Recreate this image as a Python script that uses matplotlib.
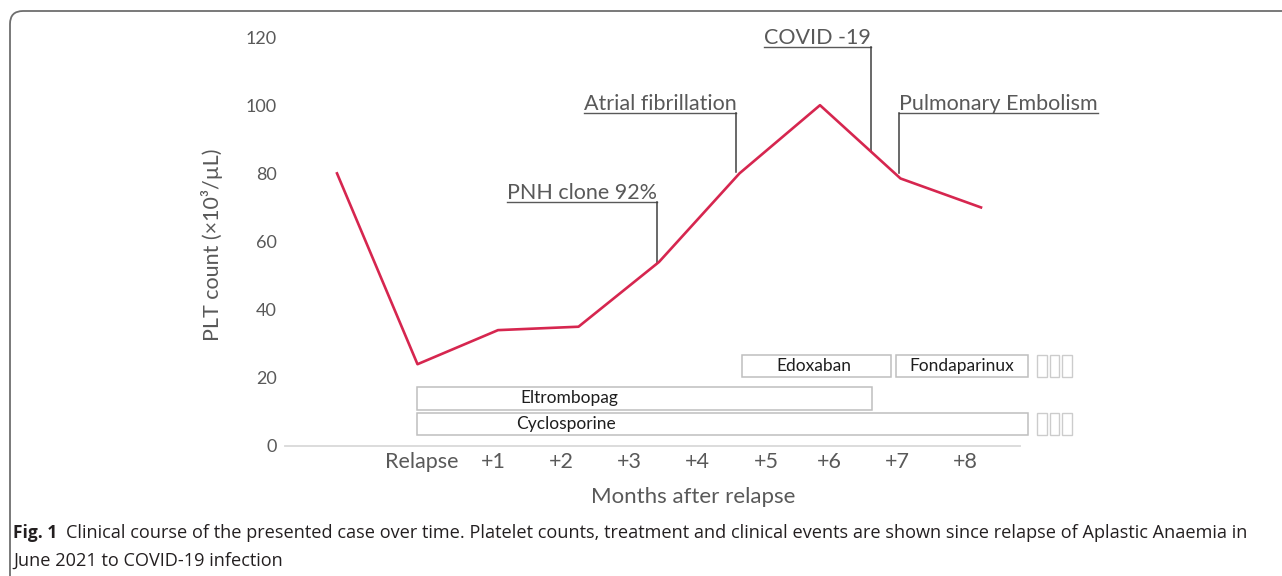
import matplotlib
matplotlib.use("Agg")
import matplotlib.pyplot as plt
import matplotlib.transforms as mtransforms
from matplotlib.patches import Rectangle, FancyBboxPatch
import numpy as np

# platelet counts (x10^3/uL), one per visit
visits = np.arange(9)
plt_count = [80, 24, 34, 35, 54, 80, 100, 78.5, 70]

# month labels don't sit on the points in the original figure
month_labels = ["Relapse", "+1", "+2", "+3", "+4", "+5", "+6", "+7", "+8"]
month_pos = [1.05, 1.94, 2.79, 3.63, 4.48, 5.33, 6.12, 6.96, 7.80]

y_ticks = [0, 20, 40, 60, 80, 100, 120]

# clinical events: where the leader hits the curve + height of the label
event_names = ["PNH clone 92%", "Atrial fibrillation", "COVID -19", "Pulmonary Embolism"]
event_x = [3.97, 4.96, 6.63, 6.98]
event_y = [53.6, 80.3, 86.6, 80.0]
event_label_y = [71.7, 97.6, 117.2, 97.6]
event_side = ["left", "left", "left", "right"]

# treatments (start/end on the visit scale, row low/high on the count scale)
drug_names = ["Cyclosporine", "Eltrombopag", "Edoxaban", "Fondaparinux"]
drug_start = [0.99, 0.99, 5.03, 6.94]
drug_end = [8.59, 6.64, 6.88, 8.59]
drug_lo = [3.1, 10.7, 20.2, 20.2]
drug_hi = [9.7, 17.3, 26.7, 26.7]
drug_text_x = [2.85, 2.89, 5.93, 7.76]

# small empty boxes = therapy goes on
cont_start = [8.69, 8.86, 9.01]
cont_end = [8.82, 8.97, 9.13]
cont_lo = [3.1, 20.2]
cont_hi = [9.7, 26.7]

caption1 = ("Clinical course of the presented case over time. Platelet counts, treatment and clinical "
            "events are shown since relapse of Aplastic Anaemia in")
caption2 = "June 2021 to COVID-19 infection"

plt.rcParams['font.family'] = ['Lato', 'DejaVu Sans']
grey = '#595959'

W, H = 1282, 576
fig = plt.figure(figsize=(W / 100, H / 100), dpi=100)
fig.patch.set_facecolor('white')

# rounded frame, only top and left edge show
frame = FancyBboxPatch((10, -40), 1320, 565 + 40, boxstyle="round,pad=0,rounding_size=13",
                       fc='none', ec='#6e6e6e', lw=1.3, transform=mtransforms.IdentityTransform())
fig.add_artist(frame)

left, right, top, bottom = 285, 1100, 30, 446
ax = fig.add_axes([left / W, 1 - bottom / H, (right - left) / W, (bottom - top) / H])
ax.set_xlim((left - 337) / 80.5, (right - 337) / 80.5)
ax.set_ylim(0, (bottom - top) / 3.408)
ax.patch.set_alpha(0)

ax.plot(visits, plt_count, color='#D6264F', lw=1.9, zorder=3)

for s in ['top', 'right', 'left']:
    ax.spines[s].set_visible(False)
ax.spines['bottom'].set_color('#D9D9D9')
ax.spines['bottom'].set_linewidth(1.3)
ax.spines['bottom'].set_bounds((left - 337) / 80.5, 8.48)

ax.set_yticks(y_ticks)
ax.tick_params(axis='y', length=0, pad=6, labelsize=13, labelcolor=grey)
ax.set_xticks(month_pos, month_labels)
ax.tick_params(axis='x', length=0, pad=4, labelsize=15.5, labelcolor=grey)

fig.text(212 / W, 1 - 245 / H, 'PLT count (×10³/µL)', rotation=90, ha='center', va='center',
         fontsize=15.5, color=grey)
fig.text(693 / W, 1 - 497 / H, 'Months after relapse', ha='center', va='center',
         fontsize=16, color=grey)

# treatment boxes
for name, s, e, lo, hi, tx in zip(drug_names, drug_start, drug_end, drug_lo, drug_hi, drug_text_x):
    ax.add_patch(Rectangle((s, lo), e - s, hi - lo, fc='white', ec='#BFBFBF', lw=1.1, zorder=2))
    ax.text(tx, (lo + hi) / 2, name, ha='center', va='center', fontsize=12.5, color='#1e1e1e', zorder=4)
for lo, hi in zip(cont_lo, cont_hi):
    for s, e in zip(cont_start, cont_end):
        ax.add_patch(Rectangle((s, lo), e - s, hi - lo, fc='white', ec='#CCCCCC', lw=1.0,
                               clip_on=False, zorder=2))

# events with underlined text and a leader line
fig.canvas.draw()
r = fig.canvas.get_renderer()
lift = mtransforms.offset_copy(ax.transData, fig=fig, y=3, units='dots')
for name, ex, ey, ly, side in zip(event_names, event_x, event_y, event_label_y, event_side):
    ha = 'right' if side == 'left' else 'left'
    t = ax.text(ex, ly, name, ha=ha, va='baseline', fontsize=15.5, color=grey, transform=lift)
    bb = t.get_window_extent(r).transformed(ax.transData.inverted())
    ax.plot([bb.x0, bb.x1], [ly, ly], color=grey, lw=1.0)
    ax.plot([ex, ex], [ly, ey], color='#404040', lw=1.1)

# caption, bold figure number then the text
cap = fig.text(13 / W, 1 - 538 / H, 'Fig. 1', fontweight='bold', fontsize=12.5,
               family='Open Sans', color='#231f20')
bb = cap.get_window_extent(r)
fig.text((bb.x1 + 9) / W, 1 - 538 / H, caption1, fontsize=13.1, family='Open Sans', color='#231f20')
fig.text(13 / W, 1 - 566 / H, caption2, fontsize=13.1, family='Open Sans', color='#231f20')

fig.savefig('out.png', dpi=100)
